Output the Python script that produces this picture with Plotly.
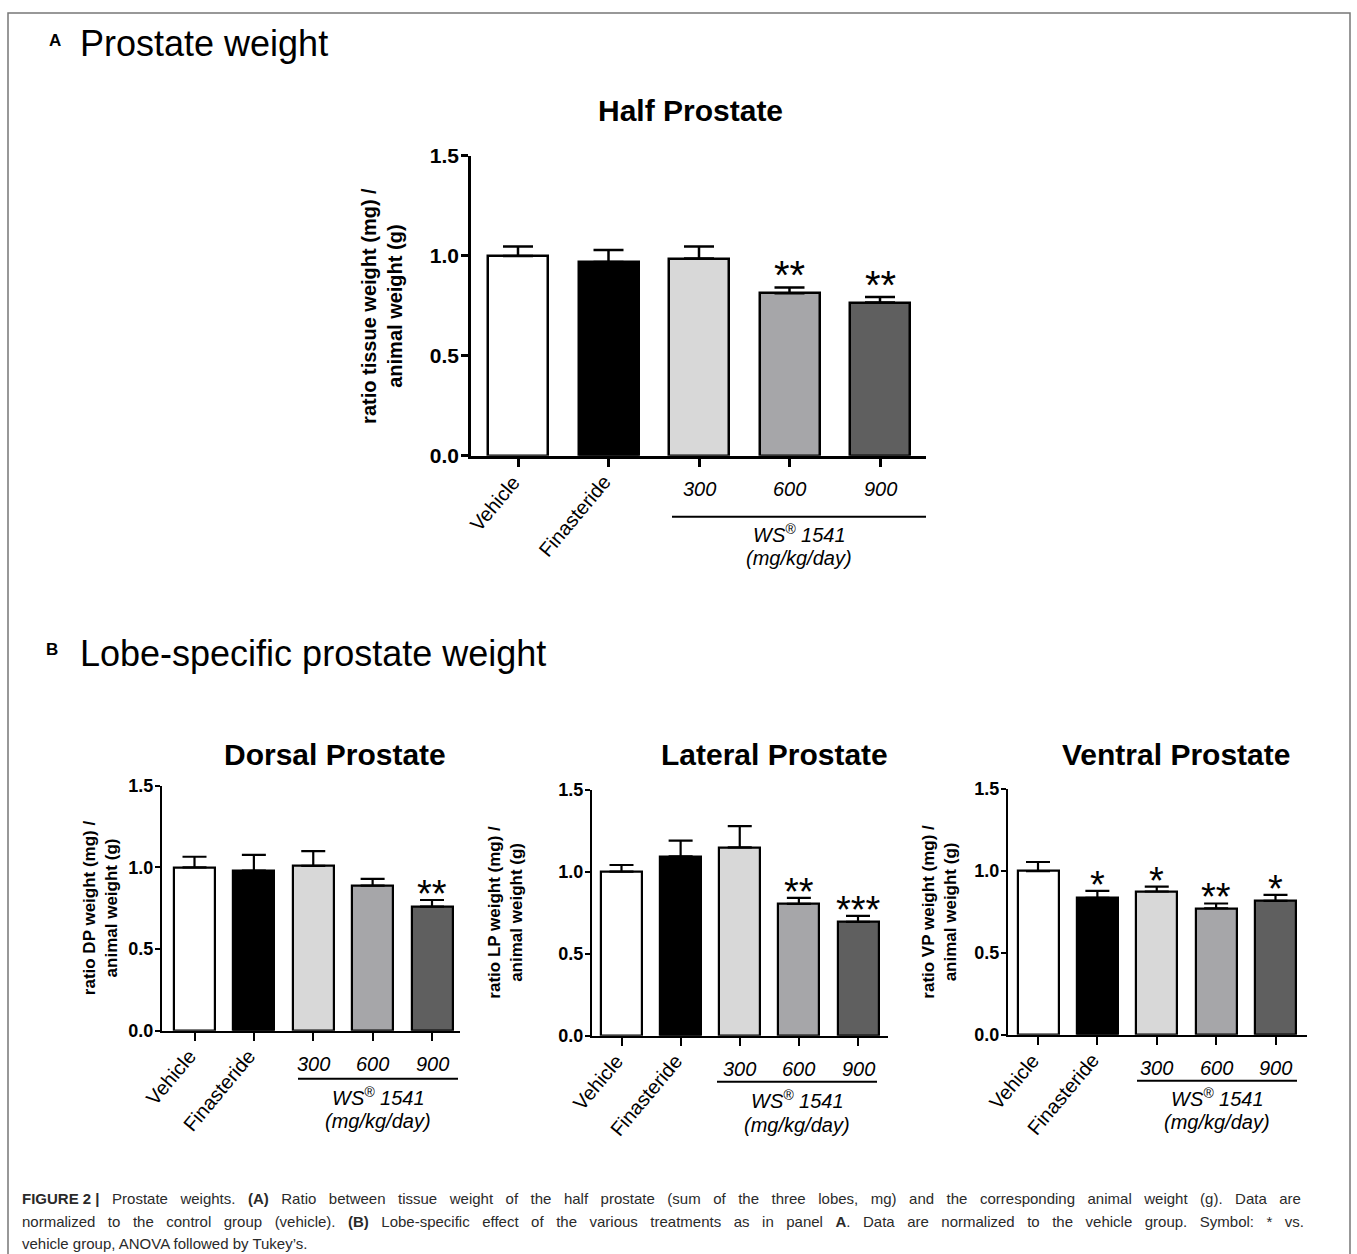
import plotly.graph_objects as go

# ---------------- data ----------------
categories = ["Vehicle", "Finasteride", "300", "600", "900"]
bar_colors = ["#ffffff", "#000000", "#d8d8d8", "#a6a6a9", "#5f5f5f"]

half_mean = [1.00, 0.97, 0.987, 0.813, 0.767]
half_err = [0.047, 0.060, 0.060, 0.029, 0.028]
half_sig = ["", "", "", "**", "**"]

dorsal_mean = [1.00, 0.98, 1.009, 0.888, 0.759]
dorsal_err = [0.065, 0.097, 0.091, 0.042, 0.041]
dorsal_sig = ["", "", "", "", "**"]

lateral_mean = [1.00, 1.093, 1.148, 0.804, 0.694]
lateral_err = [0.041, 0.097, 0.130, 0.036, 0.037]
lateral_sig = ["", "", "", "**", "***"]

ventral_mean = [0.997, 0.834, 0.873, 0.771, 0.816]
ventral_err = [0.056, 0.043, 0.030, 0.029, 0.036]
ventral_sig = ["", "*", "*", "**", "*"]

y_ticks = [0.0, 0.5, 1.0, 1.5]
y_tick_text = ["0.0", "0.5", "1.0", "1.5"]
group_label = "<i>WS<sup>®</sup> 1541</i>"
unit_label = "<i>(mg/kg/day)</i>"

caption_lines = [
    "<b>FIGURE 2 |</b> Prostate weights. <b>(A)</b> Ratio between tissue weight of the half prostate "
    "(sum of the three lobes, mg) and the corresponding animal weight (g). Data are",
    "normalized to the control group (vehicle). <b>(B)</b> Lobe-specific effect of the various treatments "
    "as in panel <b>A</b>. Data are normalized to the vehicle group. Symbol: * vs.",
    "vehicle group, ANOVA followed by Tukey’s.",
]

W, H = 1357, 1254
FONT = "Liberation Sans, Arial, sans-serif"
# vertical placement calibration of the photographed page
V_OFF, V_SCALE = 11.0, 0.982


def px(x):
    return x / W


def py(y):
    return 1 - ((y - V_OFF) / V_SCALE) / H


fig = go.Figure()
annotations = []
shapes = []

panels = [
    dict(key="", title="Half Prostate", mean=half_mean, err=half_err, sig=half_sig,
         ytitle="ratio tissue weight (mg) /<br>animal weight (g)",
         box=(471, 155, 926, 455), centers=(518, 880), barw=60, title_x=690,
         title_y=110, ytitle_x=382, tick_fs=21, ytitle_fs=20, lab_fs=20, err_w=15,
         line=(672, 926, 516), grp_y=(533, 557), star_fs=40, star_shift=-12, lw=2.5,
         tlen=7),
    dict(key="2", title="Dorsal Prostate", mean=dorsal_mean, err=dorsal_err, sig=dorsal_sig,
         ytitle="ratio DP weight (mg) /<br>animal weight (g)",
         box=(162, 785, 460, 1030), centers=(194.5, 432), barw=41, title_x=335,
         title_y=754, ytitle_x=100, tick_fs=18, ytitle_fs=17, lab_fs=20, err_w=12,
         line=(298, 458, 1078), grp_y=(1096, 1120), star_fs=38, star_shift=-17, lw=2.2,
         tlen=5),
    dict(key="3", title="Lateral Prostate", mean=lateral_mean, err=lateral_err, sig=lateral_sig,
         ytitle="ratio LP weight (mg) /<br>animal weight (g)",
         box=(592, 789, 888, 1035), centers=(621.5, 858), barw=41, title_x=774,
         title_y=754, ytitle_x=506, tick_fs=18, ytitle_fs=17, lab_fs=20, err_w=12,
         line=(717, 877, 1081), grp_y=(1099, 1124), star_fs=38, star_shift=-17, lw=2.2,
         tlen=5),
    dict(key="4", title="Ventral Prostate", mean=ventral_mean, err=ventral_err, sig=ventral_sig,
         ytitle="ratio VP weight (mg) /<br>animal weight (g)",
         box=(1008, 788, 1307, 1034), centers=(1038, 1275.5), barw=41, title_x=1176,
         title_y=754, ytitle_x=940, tick_fs=18, ytitle_fs=17, lab_fs=20, err_w=12,
         line=(1137, 1297, 1080), grp_y=(1097, 1121), star_fs=38, star_shift=-17, lw=2.2,
         tlen=5),
]

n = len(categories)
xs = list(range(n))
layout_axes = {}

for p in panels:
    k = p["key"]
    x0, y0, x1, y1 = p["box"]
    c0, c1 = p["centers"]
    step = (c1 - c0) / (n - 1)
    xr = [-(c0 - x0) / step, (n - 1) + (x1 - c1) / step]
    xa = "x" + k
    ya = "y" + k

    fig.add_trace(go.Bar(
        x=xs, y=p["mean"], xaxis=xa, yaxis=ya, width=p["barw"] / step,
        marker=dict(color=bar_colors, line=dict(color="black", width=p["lw"])),
        error_y=dict(type="data", array=p["err"], arrayminus=[0] * n, symmetric=False,
                     color="black", thickness=p["lw"], width=p["err_w"]),
        showlegend=False, hoverinfo="skip",
    ))

    layout_axes["xaxis" + k] = dict(
        domain=[px(x0), px(x1)], range=xr, anchor=ya, showline=True, linecolor="black",
        linewidth=p["lw"], ticks="outside", ticklen=8, tickwidth=p["lw"], tickcolor="black",
        tickvals=xs, showticklabels=False, showgrid=False, zeroline=False, fixedrange=True,
    )
    layout_axes["yaxis" + k] = dict(
        domain=[py(y1), py(y0)], range=[0, 1.5], anchor=xa, showline=True, linecolor="black",
        linewidth=p["lw"], ticks="outside", ticklen=p["tlen"], tickwidth=p["lw"],
        tickcolor="black", tickvals=y_ticks, ticktext=y_tick_text, showgrid=False,
        zeroline=False, ticklabelstandoff=-2,
        tickfont=dict(family=FONT, size=p["tick_fs"], color="black", weight="bold"),
        fixedrange=True,
    )

    # subplot title
    annotations.append(dict(
        text="<b>" + p["title"] + "</b>", xref="paper", yref="paper",
        x=px(p["title_x"]), y=py(p["title_y"]), xanchor="center", yanchor="middle",
        showarrow=False, font=dict(family=FONT, size=30, color="black"),
    ))
    # y-axis title
    annotations.append(dict(
        text="<b>" + p["ytitle"] + "</b>", xref="paper", yref="paper",
        x=px(p["ytitle_x"]), y=py((y0 + y1) / 2), xanchor="center", yanchor="middle",
        textangle=-90, showarrow=False,
        font=dict(family=FONT, size=p["ytitle_fs"], color="black"),
    ))
    # category labels
    for i, c in enumerate(categories):
        if i < 2:
            annotations.append(dict(
                text=c, xref=xa, yref="paper", x=i, y=py(y1 + 12),
                xanchor="right", yanchor="top", xshift=9, textangle=-50, showarrow=False,
                font=dict(family=FONT, size=p["lab_fs"], color="black"),
            ))
        else:
            annotations.append(dict(
                text="<i>" + c + "</i>", xref=xa, yref="paper", x=i, y=py(y1 + 20),
                xanchor="center", yanchor="top", showarrow=False,
                font=dict(family=FONT, size=p["lab_fs"], color="black"),
            ))
    # group bracket
    lx0, lx1, ly = p["line"]
    shapes.append(dict(type="line", xref=xa, yref="paper",
                       x0=(lx0 - c0) / step, x1=(lx1 - c0) / step, y0=py(ly), y1=py(ly),
                       line=dict(color="black", width=2)))
    gx = ((lx0 + lx1) / 2 - c0) / step
    annotations.append(dict(text=group_label, xref=xa, yref="paper", x=gx, y=py(p["grp_y"][0]),
                            xanchor="center", yanchor="middle", showarrow=False,
                            font=dict(family=FONT, size=p["lab_fs"], color="black")))
    annotations.append(dict(text=unit_label, xref=xa, yref="paper", x=gx, y=py(p["grp_y"][1]),
                            xanchor="center", yanchor="middle", showarrow=False,
                            font=dict(family=FONT, size=p["lab_fs"], color="black")))
    # significance stars
    for i, s in enumerate(p["sig"]):
        if s:
            annotations.append(dict(
                text=s, xref=xa, yref=ya, x=i, y=p["mean"][i] + p["err"][i],
                xanchor="center", yanchor="bottom", yshift=p["star_shift"], showarrow=False,
                font=dict(family=FONT, size=p["star_fs"], color="black"),
            ))

# panel headers
annotations += [
    dict(text="<b>A</b>", xref="paper", yref="paper", x=px(47), y=py(40), xanchor="left",
         yanchor="middle", showarrow=False, font=dict(family=FONT, size=17, color="black")),
    dict(text="Prostate weight", xref="paper", yref="paper", x=px(78), y=py(43), xanchor="left",
         yanchor="middle", showarrow=False, font=dict(family=FONT, size=36, color="black")),
    dict(text="<b>B</b>", xref="paper", yref="paper", x=px(44), y=py(649), xanchor="left",
         yanchor="middle", showarrow=False, font=dict(family=FONT, size=17, color="black")),
    dict(text="Lobe-specific prostate weight", xref="paper", yref="paper", x=px(78), y=py(653),
         xanchor="left", yanchor="middle", showarrow=False,
         font=dict(family=FONT, size=36, color="black")),
]

# caption (first two lines justified by widening the word gaps)
gap = " \u00a0\u00a0"
caption_y = [1198, 1221, 1243]
for j, line in enumerate(caption_lines):
    txt = line.replace(" ", gap) if j < 2 else line
    txt = txt.replace("<b>FIGURE" + gap + "2" + gap + "|</b>", "<b>FIGURE 2 |</b>")
    annotations.append(dict(text=txt, xref="paper", yref="paper", x=px(20), y=py(caption_y[j]),
                            xanchor="left", yanchor="middle", showarrow=False,
                            font=dict(family=FONT, size=15, color="#2a2a2a")))

# figure border (bottom edge lies outside the picture)
shapes.append(dict(type="rect", xref="paper", yref="paper", x0=px(8), x1=px(1350),
                   y0=-0.05, y1=1 - 1.0 / H, line=dict(color="#777777", width=1.5)))

fig.update_layout(
    width=W, height=H, margin=dict(l=0, r=0, t=0, b=0),
    paper_bgcolor="white", plot_bgcolor="white", bargap=0,
    annotations=annotations, shapes=shapes, **layout_axes,
)

fig.write_html("out.html", config={"displayModeBar": False})
